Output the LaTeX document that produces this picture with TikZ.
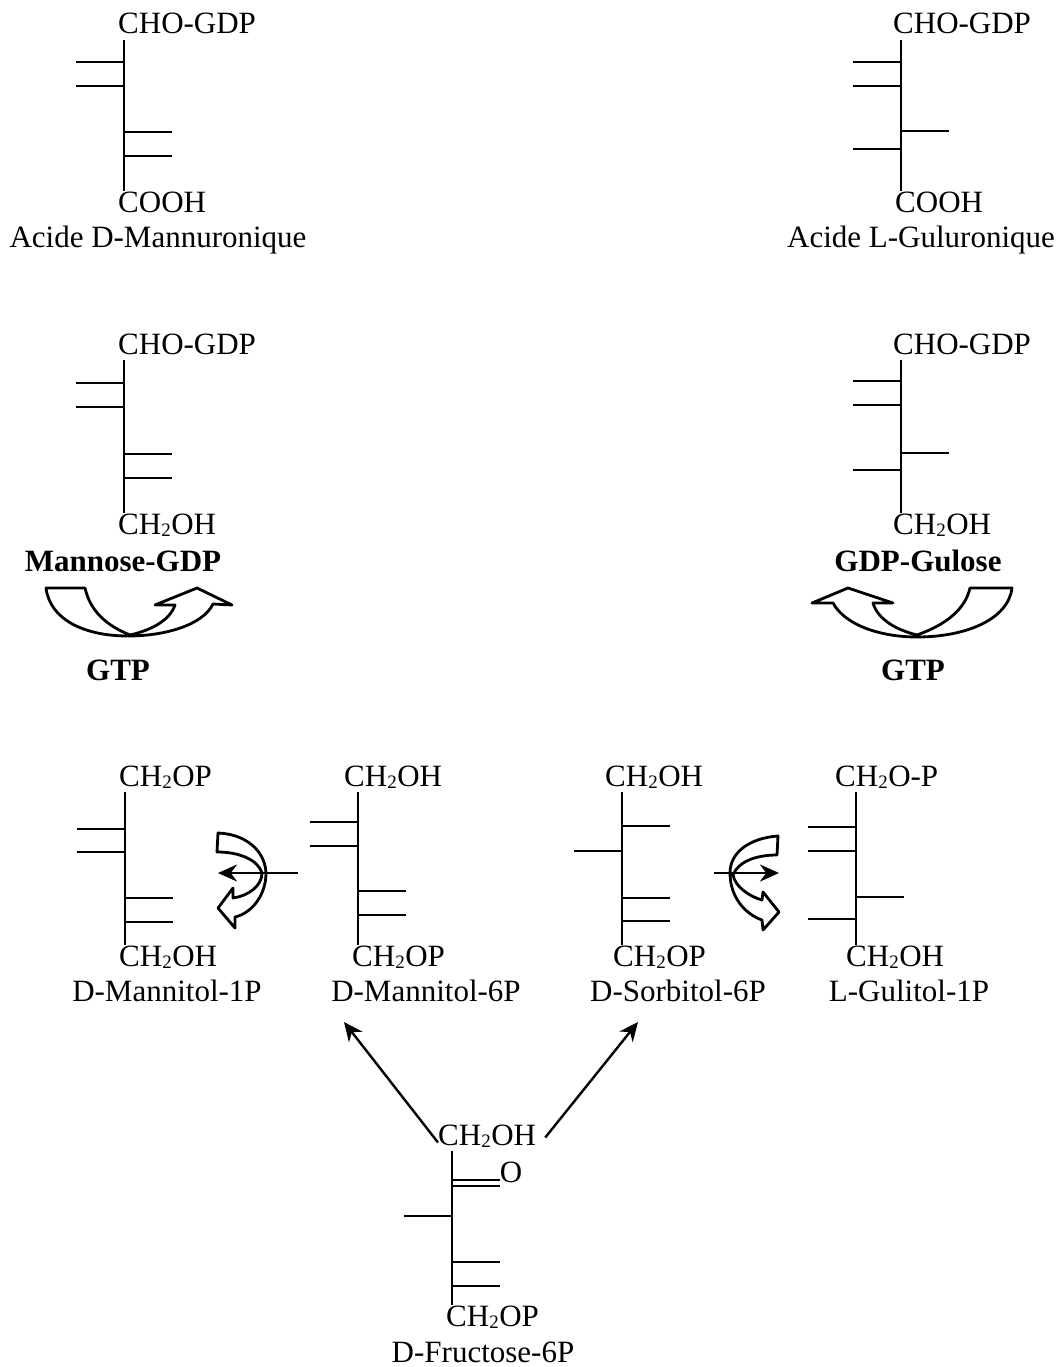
\documentclass[tikz,border=0pt]{standalone}
\usepackage{fontspec}
\setmainfont{Liberation Serif}
\usetikzlibrary{arrows.meta}
\newcommand{\chtwo}{CH\raisebox{-2pt}{\fontsize{19}{19}\selectfont 2}\kern0.5pt}
% one vertical chain: name, x of the chain, side bonds as y/side
\newcommand{\fischer}[3]{
  \coordinate (#1x) at (#2,0);
  \draw[bond] (#1top.south -| #1x) -- (#1bot.north -| #1x);
  \foreach \yy/\sgn in {#3} \draw[bond] (#2,\yy) -- ++(\sgn*48,0);
}
\tikzset{
  bond/.style={line width=2.4pt},
  chem/.style={inner sep=0pt, anchor=base west, text height=21pt, text depth=6pt},
  sugar/.style={inner sep=0pt, anchor=base},
  gtp/.style={sugar, font=\fontsize{31}{31}\selectfont\bfseries},
  curved/.style={draw=black, fill=white, line width=2.8pt, line join=round},
  step arrow/.style={line width=2.4pt, -{Stealth[length=19pt,width=17pt]}}
}

\begin{document}
\begin{tikzpicture}[x=1pt, y=-1pt, font=\fontsize{31}{31}\selectfont]
  \useasboundingbox (0,0) rectangle (1064,1367);

  % acids
  \node[chem] (manAtop) at (118,34) {CHO-GDP};
  \node[chem] (manAbot) at (118,212) {COOH};
  \node[sugar] (manAname) at (158,247) {Acide D-Mannuronique};
  \fischer{manA}{124}{62/-1,86/-1,132/1,156/1}

  \node[chem] (gulAtop) at (893,34) {CHO-GDP};
  \node[chem] (gulAbot) at (895,212) {COOH};
  \node[sugar] (gulAname) at (921,247) {Acide L-Guluronique};
  \fischer{gulA}{901}{62/-1,86/-1,131/1,149/-1}

  % GDP sugars
  \node[chem] (manGtop) at (118,354) {CHO-GDP};
  \node[chem] (manGbot) at (118,534) {\chtwo OH};
  \node[gtp] (manGname) at (123,571) {Mannose-GDP};
  \fischer{manG}{124}{383/-1,407/-1,454/1,478/1}

  \node[chem] (gulGtop) at (893,354) {CHO-GDP};
  \node[chem] (gulGbot) at (893,534) {\chtwo OH};
  \node[gtp] (gulGname) at (918,571) {GDP-Gulose};
  \fischer{gulG}{901}{381/-1,405/-1,453/1,470/-1}

  % GTP arrows
  \draw[curved] (46,588) -- (85,588) .. controls (90,610) and (105,625) .. (130,635)
    .. controls (152,630) and (170,620) .. (175,605) -- (155,605) -- (197,588) -- (232,605) -- (213,604)
    .. controls (203,625) and (165,636) .. (128,636) .. controls (85,636) and (50,620) .. (46,588) -- cycle;
  \draw[curved] (1012,588) -- (970,588) .. controls (965,610) and (945,625) .. (917,635)
    .. controls (897,630) and (878,620) .. (873,603) -- (893,603) -- (848,588) -- (812,603) -- (833,603)
    .. controls (845,625) and (880,637) .. (917,637) .. controls (965,637) and (1008,620) .. (1012,588) -- cycle;
  \node[gtp] (gtpL) at (118,680) {GTP};
  \node[gtp] (gtpR) at (913,680) {GTP};

  % alditol phosphates
  \node[chem] (man1top) at (119,786) {\chtwo OP};
  \node[chem] (man1bot) at (119,966) {\chtwo OH};
  \node[sugar] (man1name) at (167,1001) {D-Mannitol-1P};
  \fischer{man1}{125}{829/-1,852/-1,898/1,922/1}

  \node[chem] (man6top) at (344,786) {\chtwo OH};
  \node[chem] (man6bot) at (352,966) {\chtwo OP};
  \node[sugar] (man6name) at (426,1001) {D-Mannitol-6P};
  \fischer{man6}{358}{822/-1,846/-1,891/1,915/1}

  \node[chem] (sor6top) at (605,786) {\chtwo OH};
  \node[chem] (sor6bot) at (613,966) {\chtwo OP};
  \node[sugar] (sor6name) at (678,1001) {D-Sorbitol-6P};
  \fischer{sor6}{622}{826/1,851/-1,898/1,921/1}

  \node[chem] (gul1top) at (835,786) {\chtwo O-P};
  \node[chem] (gul1bot) at (846,966) {\chtwo OH};
  \node[sugar] (gul1name) at (909,1001) {L-Gulitol-1P};
  \fischer{gul1}{856}{827/-1,851/-1,897/1,919/-1}

  % loops between the alditols
  \draw[curved] (218,833) .. controls (245,834) and (265,850) .. (266,873)
    .. controls (266,895) and (252,913) .. (235,917) -- (235,928) -- (218,908) -- (233,888) -- (233,898)
    .. controls (248,896) and (262,886) .. (262,873) .. controls (258,860) and (240,852) .. (217,852) -- cycle;
  \draw[curved] (778,836) .. controls (750,838) and (730,852) .. (730,873)
    .. controls (730,897) and (745,914) .. (762,920) -- (763,930) -- (779,912) -- (763,892) -- (762,900)
    .. controls (748,896) and (735,886) .. (733,875) .. controls (738,862) and (755,855) .. (777,855) -- cycle;
  \coordinate (man6out) at (298,873);
  \coordinate (man1in) at (218,873);
  \coordinate (sor6out) at (714,873);
  \coordinate (gul1in) at (779,873);
  \draw[step arrow] (man6out) -- (man1in);
  \draw[step arrow] (sor6out) -- (gul1in);

  % fructose
  \node[chem] (fru6top) at (438,1145) {\chtwo OH};
  \node[chem] (fru6bot) at (446,1326) {\chtwo OP};
  \node[sugar] (fru6name) at (483,1362) {D-Fructose-6P};
  \node[sugar] (oxo) at (511,1182) {O};
  \fischer{fru6}{452}{1180/1,1186/1,1216/-1,1262/1,1286/1}

  \coordinate (man6tip) at (344,1022);
  \coordinate (sor6tip) at (638,1022);
  \draw[step arrow] ([yshift=-5]fru6top.west) -- (man6tip);
  \draw[step arrow] ([xshift=9]fru6top.east) -- (sor6tip);
\end{tikzpicture}
\end{document}
